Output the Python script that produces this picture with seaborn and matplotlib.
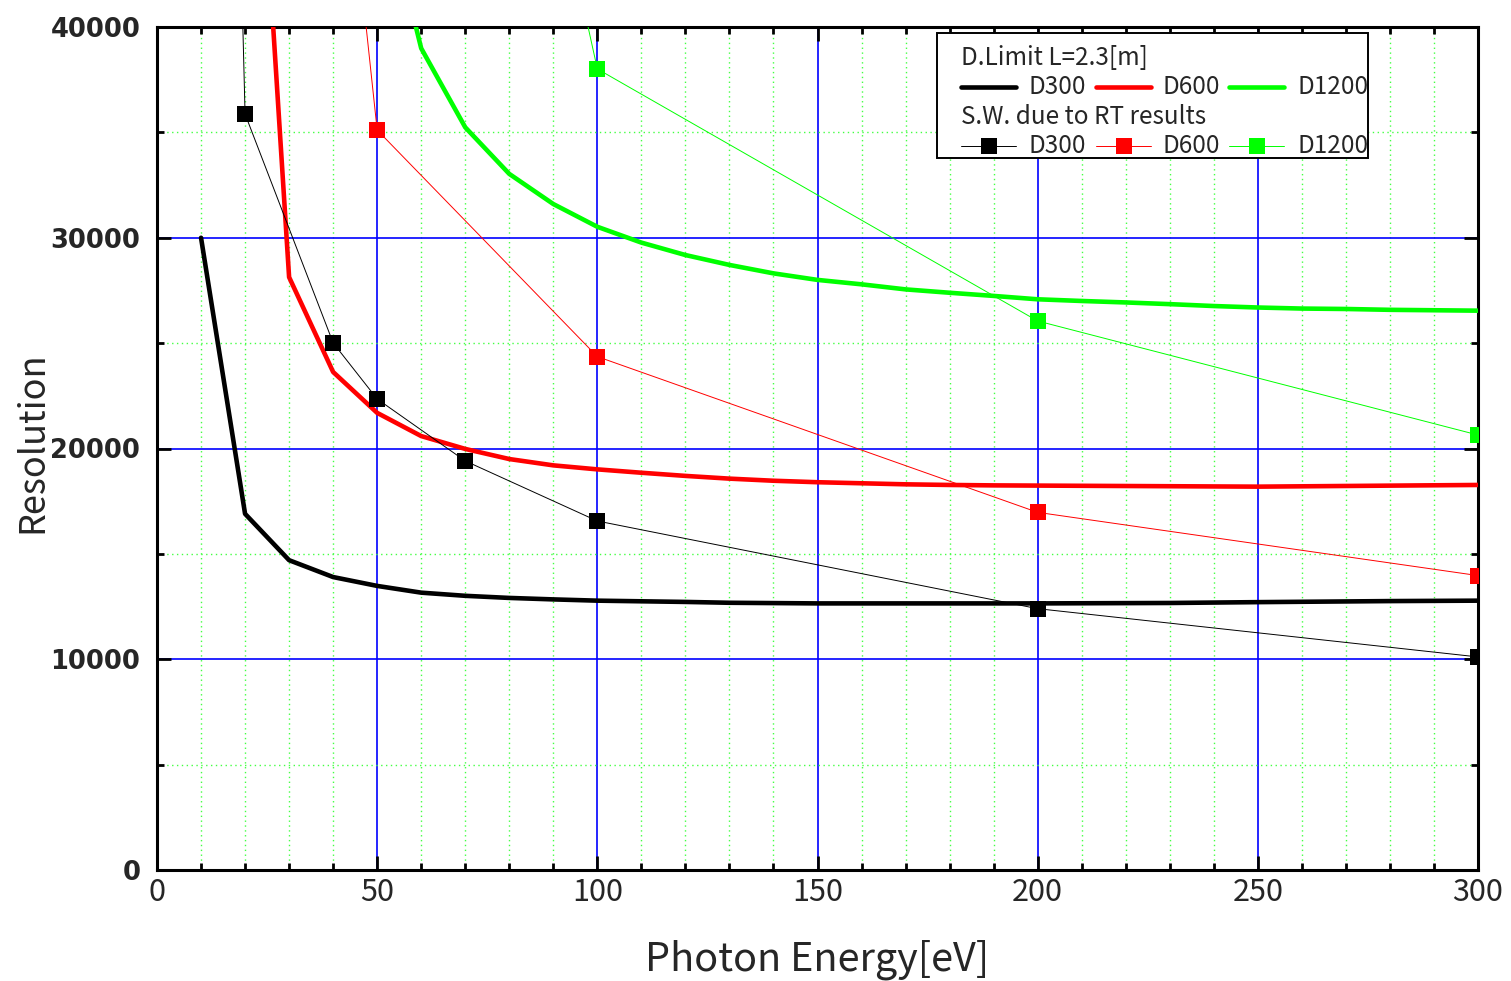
import numpy as np
import pandas as pd
import matplotlib
matplotlib.use('Agg')
import matplotlib.pyplot as plt
import seaborn as sns
from matplotlib.ticker import MultipleLocator
from matplotlib.patches import Rectangle

# ---------------- data ----------------
energy_dl300 = [10, 20, 30, 40, 50, 60, 70, 80, 90, 100, 110, 120, 130, 150, 200, 230, 250, 280, 300]
res_dl300 = [30000, 16900, 14700, 13900, 13480, 13160, 13010, 12910, 12840, 12780, 12750, 12720,
             12680, 12650, 12650, 12670, 12710, 12760, 12780]

energy_dl600 = [20, 30, 40, 50, 60, 70, 80, 90, 100, 110, 120, 130, 140, 150, 160, 170, 180, 190,
                200, 250, 300]
res_dl600 = [61000, 28130, 23630, 21690, 20590, 19980, 19500, 19200, 19010, 18850, 18700, 18570,
             18470, 18400, 18350, 18300, 18270, 18250, 18240, 18190, 18270]

energy_dl1200 = [50, 60, 70, 80, 90, 100, 110, 120, 130, 140, 150, 160, 170, 180, 190, 200, 210,
                 220, 230, 240, 250, 260, 270, 280, 290, 300]
res_dl1200 = [47400, 38990, 35240, 33030, 31600, 30520, 29770, 29180, 28710, 28310, 28000, 27790,
              27550, 27390, 27240, 27080, 27000, 26930, 26850, 26760, 26690, 26640, 26620, 26580,
              26560, 26540]

energy_sw300 = [10, 20, 40, 50, 70, 100, 200, 300]
res_sw300 = [118000, 35870, 25010, 22350, 19410, 16560, 12400, 10110]
energy_sw600 = [40, 50, 100, 200, 300]
res_sw600 = [54670, 35110, 24360, 16970, 13970]
energy_sw1200 = [50, 100, 200, 300]
res_sw1200 = [85400, 38010, 26050, 20640]

series_names = ["D300", "D600", "D1200"]
series_colors = ["#000000", "#ff0000", "#00ff00"]
legend_title_dl = "D.Limit L=2.3[m]"
legend_title_sw = "S.W. due to RT results"
x_label = "Photon Energy[eV]"
y_label = "Resolution"

# ---------------- style ----------------
sns.set_style("white")
plt.rcParams['font.family'] = ['Noto Sans CJK JP', 'DejaVu Sans']

fig = plt.figure(figsize=(15.11, 9.81), dpi=100)
ax = fig.add_axes([157 / 1511, 1 - 870 / 981, (1478 - 157) / 1511, (870 - 27) / 981])

dl_sets = [(energy_dl300, res_dl300), (energy_dl600, res_dl600), (energy_dl1200, res_dl1200)]
sw_sets = [(energy_sw300, res_sw300), (energy_sw600, res_sw600), (energy_sw1200, res_sw1200)]

for (ex, ry), c in zip(dl_sets, series_colors):
    df = pd.DataFrame({"E": ex, "R": ry})
    sns.lineplot(data=df, x="E", y="R", ax=ax, color=c, linewidth=3.3, estimator=None,
                 sort=False, zorder=3)

for (ex, ry), c in zip(sw_sets, series_colors):
    df = pd.DataFrame({"E": ex, "R": ry})
    sns.lineplot(data=df, x="E", y="R", ax=ax, color=c, linewidth=0.7, estimator=None,
                 sort=False, marker='s', markersize=12, markeredgewidth=0, zorder=4)

ax.set_xlim(0, 300)
ax.set_ylim(0, 40000)
ax.xaxis.set_major_locator(MultipleLocator(50))
ax.xaxis.set_minor_locator(MultipleLocator(10))
ax.yaxis.set_major_locator(MultipleLocator(10000))
ax.yaxis.set_minor_locator(MultipleLocator(5000))

ax.set_axisbelow(True)
ax.grid(which='major', color='#0000ff', linewidth=1.2, linestyle='-')
ax.grid(which='minor', color='#44ff44', linewidth=1.0, linestyle=(0, (1, 2.5)))

for s in ax.spines.values():
    s.set_visible(True)
    s.set_linewidth(2.2)
    s.set_color('black')

ax.tick_params(which='both', direction='in', top=True, right=True, bottom=True, left=True,
               color='black', width=2)
ax.tick_params(which='major', length=10)
ax.tick_params(which='minor', length=5)
ax.tick_params(axis='x', which='major', pad=5, labelsize=22)
ax.tick_params(axis='y', which='major', pad=12)

for lab in ax.get_xticklabels():
    lab.set_family(['Noto Sans CJK JP', 'DejaVu Sans'])
    lab.set_fontsize(22)
for lab in ax.get_yticklabels():
    lab.set_family('DejaVu Sans')
    lab.set_fontweight('bold')
    lab.set_fontsize(18.5)

ax.set_xlabel(x_label, fontsize=28.5)
ax.set_ylabel(y_label, fontsize=26)
ax.xaxis.set_label_coords(0.5, -0.083)
ax.yaxis.label.set_va('center')
ax.yaxis.set_label_coords(-0.094, 0.508)

# ---------------- legend (manual, Origin-like) ----------------
ax.add_patch(Rectangle((0.5905, 0.8446), 0.9167 - 0.5905, 0.9929 - 0.8446,
                       transform=ax.transAxes, facecolor='white', edgecolor='black',
                       linewidth=1.4, zorder=10, clip_on=False))
row_y = [0.9632, 0.9288, 0.8932, 0.8588]
line_x0 = [0.6086, 0.7108, 0.8115]
line_len = 0.0417
text_x = [0.6594, 0.7608, 0.8630]
lfs = 17.5
ax.text(0.6086, row_y[0], legend_title_dl, transform=ax.transAxes, fontsize=lfs,
        va='center', ha='left', zorder=11)
ax.text(0.6086, row_y[2], legend_title_sw, transform=ax.transAxes, fontsize=lfs,
        va='center', ha='left', zorder=11)
for i, (name, c) in enumerate(zip(series_names, series_colors)):
    x0 = line_x0[i]
    ax.plot([x0, x0 + line_len], [row_y[1], row_y[1]], transform=ax.transAxes, color=c,
            linewidth=3.3, zorder=11, clip_on=False)
    ax.text(text_x[i], row_y[1], name, transform=ax.transAxes, fontsize=lfs,
            va='center', ha='left', zorder=11)
    ax.plot([x0, x0 + line_len], [row_y[3], row_y[3]], transform=ax.transAxes, color=c,
            linewidth=0.7, zorder=11, clip_on=False)
    ax.plot([x0 + line_len / 2], [row_y[3]], transform=ax.transAxes, color=c, marker='s',
            markersize=12, markeredgewidth=0, zorder=12, clip_on=False)
    ax.text(text_x[i], row_y[3], name, transform=ax.transAxes, fontsize=lfs,
            va='center', ha='left', zorder=11)

fig.savefig("out.png", dpi=100)
